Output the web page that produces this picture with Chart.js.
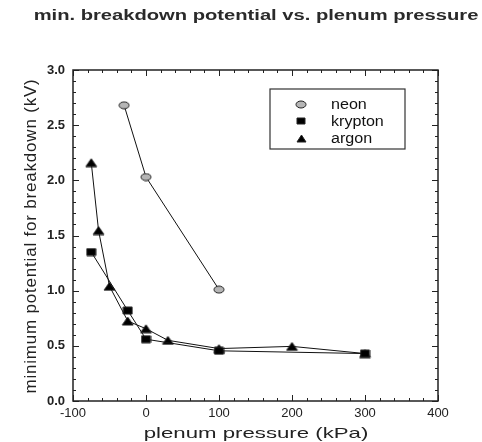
<!DOCTYPE html>
<html>
<head>
<meta charset="utf-8">
<script src="https://cdn.jsdelivr.net/npm/chart.js@4.4.0/dist/chart.umd.min.js"></script>
<style>
    body { margin: 0; background: #fff; }
    #wrap { width: 482px; height: 442px; position: relative; }
</style>
</head>
<body>
<div id="wrap"><canvas id="breakdownChart"></canvas></div>
<script>
// plenum pressure (kPa) and minimum breakdown potential (kV)
const neonPressure = [-30, 0, 100];
const neonPotential = [2.68, 2.03, 1.01];

const kryptonPressure = [-75, -25, 0, 100, 300];
const kryptonPotential = [1.35, 0.82, 0.56, 0.455, 0.43];

const argonPressure = [-75, -65, -50, -25, 0, 30, 100, 200, 300];
const argonPotential = [2.16, 1.545, 1.04, 0.725, 0.655, 0.55, 0.475, 0.495, 0.43];

const seriesNames = ['neon', 'krypton', 'argon'];

const xTicks = [-100, 0, 100, 200, 300, 400];
const yTicks = [0.0, 0.5, 1.0, 1.5, 2.0, 2.5, 3.0];

const toPoints = (xs, ys) => xs.map((x, i) => ({ x: x, y: ys[i] }));

const FONT = '"Liberation Sans", Arial, sans-serif';

// the scanned figure is stretched sideways, so the markers are flat
function makeMarker(shape, w, h, fill) {
    const c = document.createElement('canvas');
    c.width = w + 2;
    c.height = h + 2;
    const g = c.getContext('2d');
    g.fillStyle = fill;
    g.strokeStyle = '#222';
    g.lineWidth = 1;
    g.beginPath();
    if (shape === 'circle') {
        g.ellipse(c.width / 2, c.height / 2, w / 2, h / 2, 0, 0, Math.PI * 2);
    } else if (shape === 'rect') {
        g.rect(1, 1, w, h);
    } else {
        g.moveTo(c.width / 2, 1); g.lineTo(w + 1, h + 1); g.lineTo(1, h + 1); g.closePath();
    }
    g.fill();
    g.stroke();
    return c;
}

const markers = [
    makeMarker('circle', 10, 7, '#b5b5b5'),
    makeMarker('rect', 9, 7, '#000'),
    makeMarker('tri', 11, 8, '#000')
];
const legendMarkers = [
    makeMarker('circle', 10, 7, '#b5b5b5'),
    makeMarker('rect', 8, 6, '#000'),
    makeMarker('tri', 9, 7, '#000')
];

function drawStretched(c, text, x, y, sx, font, color) {
    c.save();
    c.translate(x, y);
    c.scale(sx, 1);
    c.font = font;
    c.fillStyle = color;
    c.textAlign = 'center';
    c.textBaseline = 'alphabetic';
    c.fillText(text, 0, 0);
    c.restore();
}

// ticks pointing inward on all four sides, with minor ticks
const frameTicks = {
    id: 'frameTicks',
    afterDatasetsDraw(chart) {
        const { ctx, chartArea: a, scales: { x, y } } = chart;
        ctx.save();
        ctx.strokeStyle = '#222';
        ctx.lineWidth = 1;
        ctx.beginPath();
        for (let v = -100; v <= 400; v += 20) {
            const px = Math.round(x.getPixelForValue(v)) + 0.5;
            const len = v % 100 === 0 ? 6 : 3;
            ctx.moveTo(px, a.bottom); ctx.lineTo(px, a.bottom - len);
            ctx.moveTo(px, a.top); ctx.lineTo(px, a.top + len);
        }
        for (let k = 0; k <= 30; k++) {
            const py = Math.round(y.getPixelForValue(k / 10)) + 0.5;
            const len = k % 5 === 0 ? 6 : 3;
            ctx.moveTo(a.left, py); ctx.lineTo(a.left + len, py);
            ctx.moveTo(a.right, py); ctx.lineTo(a.right - len, py);
        }
        ctx.stroke();
        ctx.lineWidth = 1.5;
        ctx.strokeRect(a.left, a.top, a.right - a.left, a.bottom - a.top);
        ctx.restore();
    }
};

// legend box inside the plot
const boxLegend = {
    id: 'boxLegend',
    afterDraw(chart) {
        const { ctx } = chart;
        const left = 270, top = 89, w = 135, h = 60;
        ctx.save();
        ctx.fillStyle = '#fff';
        ctx.fillRect(left, top, w, h);
        ctx.strokeStyle = '#333';
        ctx.lineWidth = 1.2;
        ctx.strokeRect(left, top, w, h);
        seriesNames.forEach((name, i) => {
            const cy = top + 15 + i * 17;
            const m = legendMarkers[i];
            ctx.drawImage(m, Math.round(301 - m.width / 2), Math.round(cy - m.height / 2));
            ctx.save();
            ctx.translate(331, cy + 5);
            ctx.scale(1.15, 1);
            ctx.fillStyle = '#111';
            ctx.font = '14px ' + FONT;
            ctx.fillText(name, 0, 0);
            ctx.restore();
        });
        ctx.restore();
    }
};

// titles, drawn stretched like the scan
const titles = {
    id: 'titles',
    afterDraw(chart) {
        const c = chart.ctx;
        drawStretched(c, 'min. breakdown potential vs. plenum pressure', 256, 20, 1.44, 'bold 14px ' + FONT, '#2a2a2a');
        drawStretched(c, 'plenum pressure (kPa)', 256, 438, 1.48, '15px ' + FONT, '#222');
        c.save();
        c.translate(36, 236);
        c.rotate(-Math.PI / 2);
        c.font = '17px ' + FONT;
        c.letterSpacing = '0.8px';
        c.fillStyle = '#222';
        c.textAlign = 'center';
        c.fillText('minimum potential for breakdown (kV)', 0, 0);
        c.restore();
    }
};

const ctx = document.getElementById('breakdownChart').getContext('2d');

const lineSet = (i, xs, ys) => ({
    label: seriesNames[i],
    data: toPoints(xs, ys),
    showLine: true,
    borderColor: '#111',
    borderWidth: 1,
    pointStyle: markers[i],
    pointRadius: 5
});

let breakdownChart = new Chart(ctx, {
    type: 'scatter',
    data: {
        datasets: [
            lineSet(0, neonPressure, neonPotential),
            lineSet(1, kryptonPressure, kryptonPotential),
            lineSet(2, argonPressure, argonPotential)
        ]
    },
    options: {
        responsive: true,
        maintainAspectRatio: false,
        animation: false,
        layout: { padding: { top: 70, right: 44, left: 0, bottom: 0 } },
        plugins: {
            legend: { display: false },
            tooltip: { enabled: false },
            title: { display: false }
        },
        scales: {
            x: {
                type: 'linear',
                min: -100,
                max: 400,
                afterBuildTicks: (scale) => { scale.ticks = xTicks.map(v => ({ value: v })); },
                afterFit: (scale) => { scale.height = 41; },
                grid: { display: false, drawTicks: false },
                border: { display: false },
                ticks: {
                    padding: 5,
                    color: '#222',
                    font: { family: FONT, size: 13 },
                    callback: (v) => v
                }
            },
            y: {
                type: 'linear',
                min: 0,
                max: 3,
                afterBuildTicks: (scale) => { scale.ticks = yTicks.map(v => ({ value: v })); },
                afterFit: (scale) => { scale.width = 73; },
                grid: { display: false, drawTicks: false },
                border: { display: false },
                ticks: {
                    padding: 8,
                    color: '#222',
                    font: { family: FONT, size: 13, weight: 'bold' },
                    callback: (v) => v.toFixed(1)
                }
            }
        }
    },
    plugins: [frameTicks, boxLegend, titles]
});
</script>
</body>
</html>
